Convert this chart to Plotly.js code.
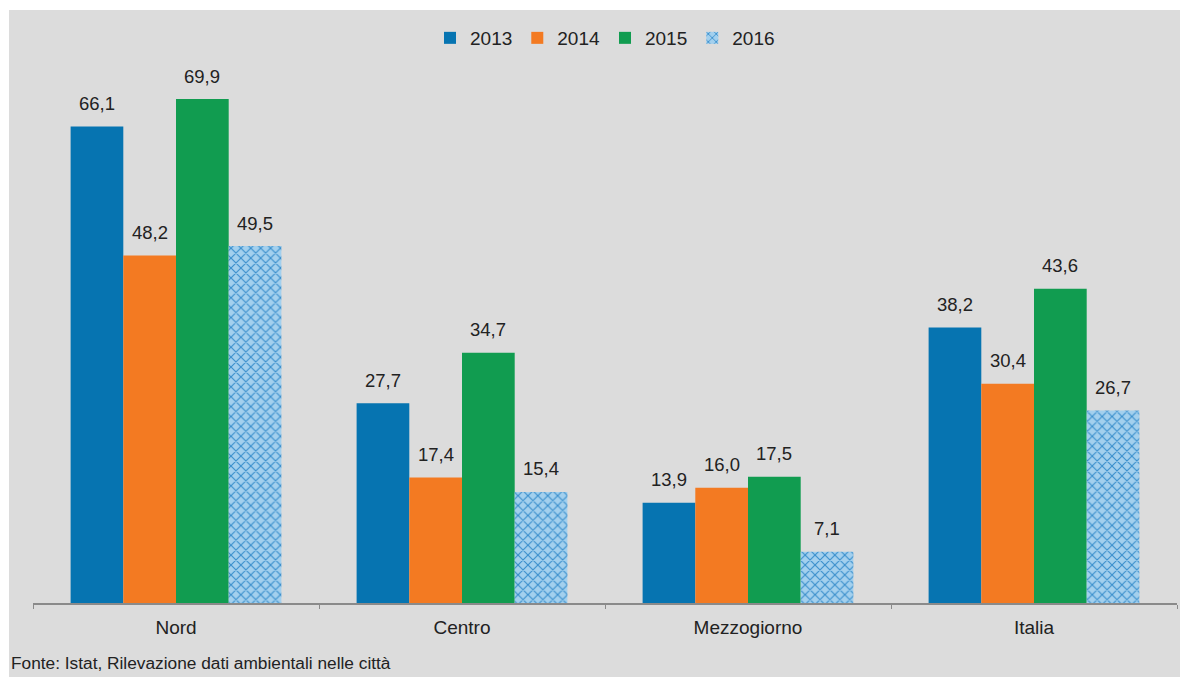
<!DOCTYPE html>
<html>
<head>
<meta charset="utf-8">
<script src="https://cdn.plot.ly/plotly-3.0.1.min.js"></script>
<style>
html,body{margin:0;padding:0;background:#fff;}
#chart{width:1180px;height:677px;}
</style>
</head>
<body>
<div id="chart"></div>
<script>
const categories = ["Nord", "Centro", "Mezzogiorno", "Italia"];
const years = ["2013", "2014", "2015", "2016"];
const v2013 = [66.1, 27.7, 13.9, 38.2];
const v2014 = [48.2, 17.4, 16.0, 30.4];
const v2015 = [69.9, 34.7, 17.5, 43.6];
const v2016 = [49.5, 15.4, 7.1, 26.7];
const source = "Fonte: Istat, Rilevazione dati ambientali nelle città";

const series = [v2013, v2014, v2015, v2016];
const colors = ["#0674b1", "#f37a22", "#119c50", "#8fc6e8"];
const fontFam = "Liberation Sans, Arial, Helvetica, sans-serif";

const fmt = v => v.toFixed(1).replace(".", ",");

const traces = series.map((vals, i) => {
  const t = {
    type: "bar",
    name: years[i],
    x: categories,
    y: vals,
    marker: {color: colors[i], line: {width: 0}},
    hoverinfo: "none"
  };
  if (i === 3) {
    t.marker.pattern = {shape: "x", fgcolor: "#3a8fcc", bgcolor: "#a3d0ee", size: 7, solidity: 0.3, fillmode: "replace"};
  }
  return t;
});

const nS = series.length;
const groupW = 0.737;
const barW = groupW / nS;
const annotations = [];
series.forEach((vals, i) => {
  vals.forEach((v, j) => {
    annotations.push({
      x: j - groupW / 2 + barW * (i + 0.5),
      y: v,
      xref: "x", yref: "y",
      text: fmt(v),
      showarrow: false,
      yanchor: "middle",
      yshift: 23,
      font: {family: fontFam, size: 18.5, color: "#222"}
    });
  });
});
annotations.push({
  xref: "paper", yref: "paper",
  x: (9 - 33) / 1144, y: (603 - 663) / 533,
  xanchor: "left", yanchor: "middle",
  text: source, showarrow: false,
  font: {family: fontFam, size: 17.3, color: "#222"}
});

const layout = {
  width: 1180, height: 677,
  margin: {l: 33, r: 3, t: 70, b: 74, pad: 0},
  paper_bgcolor: "#ffffff",
  plot_bgcolor: "rgba(0,0,0,0)",
  barmode: "group",
  bargap: 1 - groupW,
  bargroupgap: 0,
  font: {family: fontFam, size: 19, color: "#222"},
  showlegend: true,
  legend: {
    orientation: "h", x: 0.5, xanchor: "center", y: (603 - 38) / 533, yanchor: "middle",
    font: {family: fontFam, size: 19, color: "#222"},
    itemwidth: 30, traceorder: "normal", bgcolor: "rgba(0,0,0,0)"
  },
  xaxis: {
    type: "category",
    range: [-0.5, 3.5],
    showgrid: false, zeroline: false,
    showline: true, linecolor: "#8a8a8a", linewidth: 1.5,
    ticks: "outside", tickson: "boundaries", ticklen: 4, tickcolor: "#8a8a8a", tickwidth: 1,
    ticklabelstandoff: 7,
    tickfont: {family: fontFam, size: 19, color: "#222"},
    fixedrange: true
  },
  yaxis: {
    range: [0, (603 - 70) / 7.21],
    visible: false, showgrid: false, zeroline: false, fixedrange: true
  },
  shapes: [{
    type: "rect", xref: "paper", yref: "paper", layer: "below",
    x0: (9 - 33) / 1144, x1: (1180 - 33) / 1144,
    y0: (603 - 677) / 533, y1: (603 - 10) / 533,
    fillcolor: "#dcdcdc", line: {width: 0}
  }],
  annotations: annotations
};

Plotly.newPlot("chart", traces, layout, {displayModeBar: false, staticPlot: true});
</script>
</body>
</html>
